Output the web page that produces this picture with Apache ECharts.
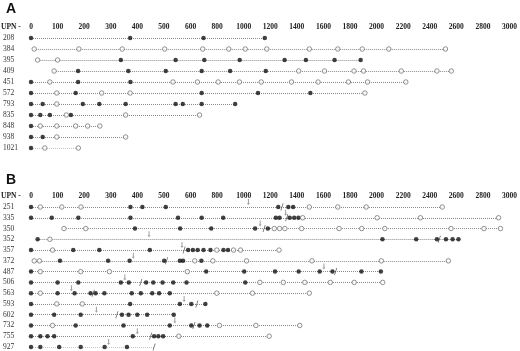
<!DOCTYPE html>
<html>
<head>
<meta charset="utf-8">
<script src="https://cdn.jsdelivr.net/npm/echarts@6/dist/echarts.min.js"></script>
<style>
  html, body { margin: 0; padding: 0; background: #fff; }
  #chart { width: 520px; height: 351px; }
</style>
</head>
<body>
<div id="chart"></div>
<script>
// 横轴刻度（前段每100天，后段每200天）
const tickLabels = ['0', '100', '200', '300', '400', '500', '600', '800', '1000', '1200', '1400',
  '1600', '1800', '2000', '2200', '2400', '2600', '2800', '3000'];

// 图A
const upnA = ['208', '384', '395', '409', '451', '572', '793', '835', '848', '938', '1021'];
const filledA = [
  [0, 373, 698, 1159],
  [],
  [338, 544, 704, 970, 1308, 1468, 1684, 1880],
  [177, 366, 507, 684, 898, 1166],
  [0, 177, 374],
  [0, 168, 684, 1108, 1502],
  [0, 44, 195, 257, 356, 544, 571, 684, 936],
  [0, 35, 71, 150],
  [0],
  [0, 44],
  [0]
];
const openA = [
  [],
  [12, 180, 343, 503, 692, 888, 1012, 1174, 1494, 1708, 1892, 2092, 2518],
  [25, 100],
  [87, 1414, 1608, 1830, 1902, 2186, 2454, 2562],
  [71, 534, 652, 808, 968, 1132, 1360, 1560, 1788, 1932, 2220],
  [97, 266, 373, 1912],
  [97],
  [133, 356, 668],
  [35, 97, 168, 213, 259],
  [97, 356],
  [52, 178]
];

// 图B
const upnB = ['251', '335', '350', '352', '357', '372', '487', '506', '563', '593', '602', '732', '755', '927'];
const filledB = [
  [0, 374, 419, 507, 1260, 1336, 1372],
  [0, 78, 178, 374, 553, 684, 846, 1242, 1270, 1346, 1380, 1412],
  [391, 561, 756, 1086, 1182],
  [25, 2044, 2298, 2454, 2522, 2572, 2616],
  [0, 159, 257, 447, 591, 618, 654, 698, 750, 848, 882],
  [109, 290, 371, 501, 560, 572, 682],
  [0, 718, 1004, 1236, 1414, 1572, 1668, 1886, 2032],
  [0, 100, 178, 338, 368, 433, 460, 495, 535, 585, 1012],
  [0, 100, 164, 224, 243, 276, 379, 413, 456, 482, 522],
  [0, 373, 560, 606, 712],
  [0, 87, 187, 342, 367, 400, 437, 537],
  [0, 168, 348, 522, 606, 668, 726],
  [0, 35, 62, 87, 383, 463, 479, 497],
  [0, 35, 106, 187, 277, 361]
];
const openB = [
  [35, 116, 188, 1494, 1708, 1922, 2494],
  [1444, 2004, 2330, 2918],
  [124, 206, 1230, 1270, 1310, 1436, 1718, 1888, 2062, 2560, 2808, 2932],
  [71],
  [81, 798, 924, 976, 1266],
  [12, 32, 632, 768, 1022, 1514, 2036, 2540],
  [35, 187, 295, 588],
  [1122, 1298, 1460, 1652, 1832, 2046],
  [35, 798, 1066, 1494],
  [97, 193],
  [],
  [81, 818, 1092, 1422],
  [556, 1192],
  []
];
const arrowB = [[1036], [1316], [1124], [444], [568], [385], [1604], [353], [152], [576], [246], [541], [400], [292]];
const slashB = [[1288], [1324], [1154], [2472], [576], [510], [1692], [413], [234], [648], [323], [626], [450], [463]];

// 天数 -> 轴位置（分段刻度）
function toPos(v) {
  return v <= 600 ? v / 100 : 6 + (v - 600) / 200;
}

function points(rows) {
  const out = [];
  rows.forEach((row, i) => row.forEach(v => out.push([toPos(v), i])));
  return out;
}

function spans(...groups) {
  const n = groups[0].length;
  const out = [];
  for (let i = 0; i < n; i++) {
    let all = [];
    groups.forEach(g => { all = all.concat(g[i]); });
    const lo = Math.min(...all), hi = Math.max(...all);
    out.push({ coords: [[toPos(lo), i], [toPos(hi), i]] });
  }
  return out;
}

const serif = 'Liberation Serif';
const arrowPath = 'path://M1,0 L2,0 L2,6 L3,6 L1.5,9 L0,6 L1,6 Z';
const slashPath = 'path://M3,0 L4,0 L1,10 L0,10 Z';

function xAxisFor(gi, margin) {
  return {
    gridIndex: gi, type: 'value', position: 'top', min: 0, max: 18, interval: 1,
    axisLine: { show: false }, axisTick: { show: false }, splitLine: { show: false },
    axisLabel: {
      margin: margin, fontFamily: serif, fontWeight: 'bold', fontSize: 7.5, color: '#222',
      formatter: v => tickLabels[v]
    }
  };
}

function yAxisFor(gi, labels) {
  return {
    gridIndex: gi, type: 'value', inverse: true, min: 0, max: labels.length - 1, interval: 1,
    axisLine: { show: false }, axisTick: { show: false }, splitLine: { show: false },
    axisLabel: {
      margin: 28, align: 'left', fontFamily: serif, fontSize: 7.5, color: '#333',
      formatter: v => labels[v]
    }
  };
}

function panelSeries(gi, filled, open, arrows, slashes) {
  const groups = [filled, open];
  if (slashes) groups.push(slashes);
  const list = [
    {
      type: 'lines', coordinateSystem: 'cartesian2d', xAxisIndex: gi, yAxisIndex: gi,
      silent: true, z: 1,
      lineStyle: { color: '#8a8a8a', width: 1, type: [1, 1], opacity: 1 },
      data: spans(...groups)
    },
    {
      type: 'scatter', xAxisIndex: gi, yAxisIndex: gi, symbol: 'circle', symbolSize: 4.5, z: 3,
      itemStyle: { color: '#111' }, data: points(filled)
    },
    {
      type: 'scatter', xAxisIndex: gi, yAxisIndex: gi, symbol: 'circle', symbolSize: 4.5, z: 3,
      itemStyle: { color: '#fff', borderColor: '#777', borderWidth: 1 }, data: points(open)
    }
  ];
  if (arrows) {
    list.push({
      type: 'scatter', xAxisIndex: gi, yAxisIndex: gi, symbol: arrowPath, symbolSize: [3, 6],
      symbolOffset: [0, -5], z: 4, itemStyle: { color: '#888' }, data: points(arrows)
    });
  }
  if (slashes) {
    list.push({
      type: 'scatter', xAxisIndex: gi, yAxisIndex: gi, symbol: slashPath, symbolSize: [3, 7],
      z: 4, itemStyle: { color: '#333' }, data: points(slashes)
    });
  }
  return list;
}

const chart = echarts.init(document.getElementById('chart'), null, { renderer: 'canvas' });

chart.setOption({
  animation: false,
  backgroundColor: '#fff',
  grid: [
    { left: 30, right: 7.6, top: 38, height: 110 },
    { left: 30, right: 7.6, top: 207, height: 141 }
  ],
  xAxis: [xAxisFor(0, 6.5), xAxisFor(1, 7)],
  yAxis: [yAxisFor(0, upnA), yAxisFor(1, upnB)],
  graphic: [
    { type: 'text', left: 6, top: 2, style: { text: 'A', font: 'bold 14px "Liberation Sans"', fill: '#111' } },
    { type: 'text', left: 6, top: 173, style: { text: 'B', font: 'bold 14px "Liberation Sans"', fill: '#111' } },
    { type: 'text', left: 1, top: 23, style: { text: 'UPN -', font: 'bold 7.5px "Liberation Serif"', fill: '#222' } },
    { type: 'text', left: 1, top: 192, style: { text: 'UPN -', font: 'bold 7.5px "Liberation Serif"', fill: '#222' } }
  ],
  series: [
    ...panelSeries(0, filledA, openA),
    ...panelSeries(1, filledB, openB, arrowB, slashB)
  ]
});
</script>
</body>
</html>
